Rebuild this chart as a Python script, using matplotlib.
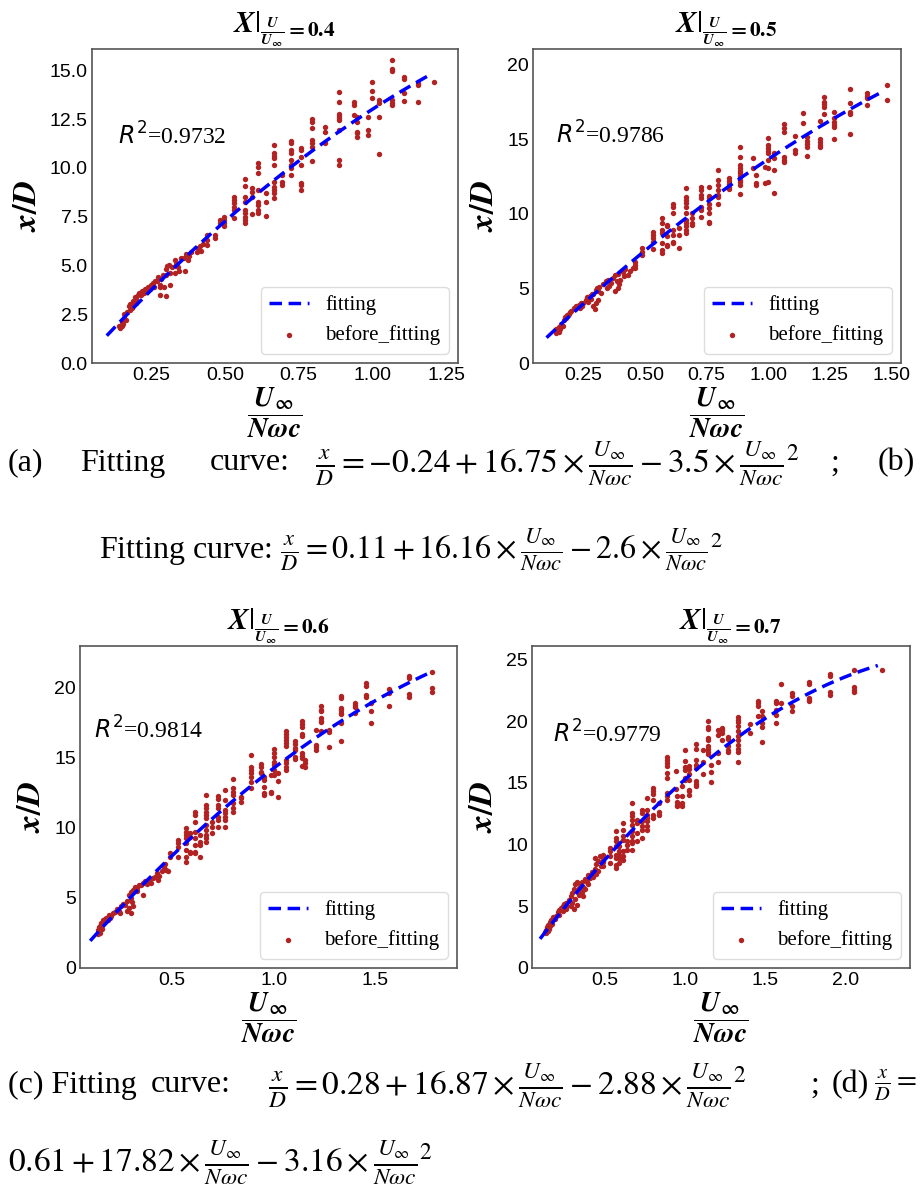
import numpy as np
import matplotlib
matplotlib.use('Agg')
import matplotlib.pyplot as plt

plt.rcParams['font.family'] = ['Liberation Serif', 'DejaVu Serif']
plt.rcParams['mathtext.fontset'] = 'stix'

# U_inf/(N w c) on x, x/D on y.  Columns of repeated runs, then single points
a_cols = [1.065, 1.108, 1.155, 1.209, 0.998, 1.023, 0.984, 0.949, 0.938, 0.887, 0.84, 0.797,
          0.758, 0.725, 0.693, 0.665, 0.639, 0.614, 0.592, 0.57, 0.53, 0.496, 0.484, 0.467, 0.441]
a_vals = [[15.53, 15.1, 14.98, 13.48, 13.34, 13.23], [14.67, 14.54, 13.82, 13.43], [14.37, 14.25, 13.4],
          [14.39], [14.42, 13.96, 13.6], [13.48, 13.31, 12.63, 10.7], [12.63, 11.95, 11.69],
          [12.63, 12.37, 11.86, 11.78, 11.6], [13.4, 13.23, 12.71],
          [13.9, 13.36, 12.76, 12.66, 12.54, 12.46, 11.95, 10.41, 10.16], [12.08, 11.86, 11.26],
          [12.49, 12.37, 12.03, 11.43, 11.26, 11.09, 10.36], [11.0, 10.92, 10.58, 10.15, 9.22, 9.13, 8.87],
          [11.4, 11.26, 10.92, 10.75, 10.41, 10.15, 9.98, 9.64], [9.64, 9.3, 9.13],
          [11.18, 10.75, 10.61, 10.5, 10.15, 9.3, 9.04, 8.87, 8.7, 8.45], [8.7, 8.27, 7.56],
          [10.24, 10.07, 9.76, 8.87, 8.27, 8.1, 7.85, 7.68], [8.96, 8.79, 8.53, 7.63],
          [9.42, 9.08, 8.53, 8.27, 7.85, 7.68, 7.5, 7.34, 7.17], [8.53, 8.36, 8.19, 8.02, 7.85, 7.42],
          [7.5, 7.34, 7.17, 7.05], [7.34, 7.17], [6.57, 6.4], [6.57, 6.31, 6.06]]
a_lx = [0.41, 0.415, 0.42, 0.425, 0.405, 0.36, 0.37, 0.375, 0.38, 0.385, 0.366,
        0.33, 0.335, 0.34, 0.345, 0.35, 0.33, 0.30, 0.305, 0.31, 0.315, 0.32, 0.30,
        0.315, 0.3, 0.282, 0.295, 0.27, 0.275, 0.28, 0.285, 0.29, 0.28,
        0.24, 0.245, 0.25, 0.255, 0.26, 0.265, 0.21, 0.215, 0.22, 0.225, 0.23, 0.235,
        0.19, 0.195, 0.2, 0.2, 0.205, 0.19, 0.175, 0.18, 0.18, 0.185, 0.17,
        0.145, 0.15, 0.15, 0.155, 0.16, 0.165, 0.14, 0.16]
a_ly = [5.9, 6.0, 5.75, 6.1, 5.7, 5.4, 5.6, 5.3, 5.5, 5.7, 4.7,
        5.3, 5.1, 4.9, 4.7, 5.4, 4.6, 4.8, 4.95, 5.0, 4.6, 4.9, 4.5,
        4.0, 3.45, 3.5, 3.9, 4.2, 4.4, 4.0, 4.3, 4.5, 3.9,
        3.9, 3.8, 4.0, 4.1, 3.9, 4.2, 3.6, 3.5, 3.7, 3.6, 3.8, 3.7,
        3.2, 3.4, 3.3, 3.1, 3.5, 3.0, 2.9, 2.7, 3.0, 2.8, 2.6,
        1.8, 1.9, 2.1, 2.0, 2.3, 2.2, 1.9, 2.5]

b_cols = [1.483, 1.403, 1.333, 1.267, 1.228, 1.212, 1.158, 1.143, 1.109, 1.065, 1.025, 0.998,
          0.988, 0.95, 0.94, 0.886, 0.841, 0.798, 0.76, 0.726, 0.692, 0.665, 0.637, 0.613,
          0.59, 0.57, 0.531, 0.488, 0.461]
b_vals = [[18.65, 17.65], [18.1, 17.94, 17.76, 17.31], [18.38, 17.47, 16.86, 16.71, 15.37],
          [16.86, 16.42, 16.19, 15.97, 15.82, 15.01], [17.87, 17.53, 17.38, 17.2, 16.71],
          [16.26, 15.01, 14.85, 14.63, 14.52], [15.15, 14.92, 14.7, 14.52, 13.91], [16.75, 16.13],
          [15.23, 14.3, 14.07], [16.04, 15.75, 15.52, 13.81, 13.63, 13.51], [14.07, 13.74, 12.96, 11.39],
          [15.08, 14.63, 14.41, 14.25, 14.07, 13.63, 13.07, 12.17], [13.18, 12.06],
          [12.62, 12.06, 11.95], [13.74, 13.07],
          [14.52, 13.81, 13.29, 13.07, 12.91, 12.73, 12.55, 12.29, 12.17, 11.95, 11.35],
          [12.4, 12.24, 12.02, 11.84, 11.66], [12.96, 12.29, 11.95, 11.62, 11.28, 11.17, 10.68],
          [11.84, 11.21, 11.06, 10.68, 10.39, 10.05, 9.49, 9.38], [11.8, 11.62, 11.24, 11.06, 10.5, 10.27, 9.83],
          [10.05, 9.72, 9.38, 9.27], [11.73, 11.17, 10.95, 10.72, 10.5, 10.05, 9.6, 9.38, 9.16, 8.93, 8.71],
          [9.05, 8.6, 7.71], [10.68, 10.5, 10.05, 8.93, 8.6, 8.15, 8.04], [9.27, 9.16, 8.49, 7.93, 7.82],
          [9.72, 9.38, 8.93, 8.71, 8.04, 7.59, 7.37], [8.82, 8.6, 8.38, 8.15, 7.64],
          [7.71, 7.48, 7.26], [6.81, 6.59, 6.37]]
b_lx = [0.41, 0.42, 0.43, 0.44, 0.45, 0.415, 0.37, 0.38, 0.385, 0.39, 0.395, 0.4, 0.39, 0.38,
        0.33, 0.34, 0.35, 0.355, 0.36, 0.345, 0.29, 0.3, 0.305, 0.31, 0.315, 0.32,
        0.29, 0.3, 0.31, 0.295, 0.25, 0.26, 0.265, 0.27, 0.275, 0.28, 0.285,
        0.2, 0.21, 0.215, 0.22, 0.23, 0.235, 0.24, 0.245, 0.17, 0.175, 0.18, 0.185, 0.19, 0.195,
        0.14, 0.145, 0.15, 0.15, 0.155, 0.16, 0.165, 0.14]
b_ly = [6.1, 6.3, 5.9, 6.2, 6.4, 5.85, 5.7, 5.9, 5.5, 6.0, 5.3, 5.6, 5.0, 4.8,
        5.3, 5.5, 5.6, 5.2, 5.4, 5.0, 4.6, 4.9, 5.0, 4.8, 5.1, 4.7,
        3.8, 4.0, 4.2, 3.65, 4.0, 4.2, 4.4, 4.1, 4.5, 4.3, 4.6,
        3.5, 3.7, 3.6, 3.8, 3.9, 3.7, 4.0, 3.85, 2.9, 3.1, 3.0, 3.2, 3.3, 3.45,
        2.0, 2.2, 2.1, 2.4, 2.3, 2.6, 2.5, 2.3]

c_cols = [1.778, 1.663, 1.565, 1.479, 1.454, 1.4, 1.332, 1.27, 1.231, 1.21, 1.156, 1.141, 1.107,
          1.063, 1.022, 1.001, 0.985, 0.952, 0.94, 0.887, 0.839, 0.799, 0.761, 0.728, 0.696,
          0.666, 0.639, 0.614, 0.59, 0.57, 0.532, 0.492]
c_vals = [[21.12, 20.0, 19.71], [20.88, 20.72, 19.57, 19.33], [19.93, 19.64, 18.73], [18.93, 18.33, 17.5],
          [20.36, 20.17, 19.52, 19.36], [18.93, 18.8, 18.61, 18.21],
          [19.4, 19.28, 18.57, 18.45, 18.25, 18.14, 17.5, 16.25], [17.01, 16.89, 15.78],
          [18.68, 18.45, 18.33, 17.85, 17.66, 17.56, 16.96], [17.01, 15.94, 15.78, 15.54],
          [14.87, 14.63, 14.39], [17.61, 17.44, 17.25, 16.73, 16.59, 15.35, 15.15, 14.99, 14.44],
          [16.18, 16.01, 15.7, 15.54, 15.1, 14.94],
          [16.96, 16.73, 16.49, 16.3, 16.06, 15.87, 14.87, 14.63, 14.34, 14.15], [13.92, 13.39, 12.24],
          [15.63, 15.39, 15.1, 14.75, 14.51, 14.15, 13.79], [13.79, 12.6, 12.48],
          [13.67, 13.44, 12.96, 12.53, 12.36], [14.58, 14.39, 14.03, 13.92],
          [15.22, 14.34, 14.15, 13.92, 13.67, 13.31, 12.84], [12.24, 12.13, 11.88],
          [13.49, 12.84, 12.6, 12.36, 11.77, 11.41, 11.17], [12.72, 12.0, 11.29, 11.05, 10.81, 10.57, 10.09],
          [12.29, 12.05, 11.65, 11.41, 10.81, 10.57, 10.09], [10.45, 10.09, 9.62],
          [12.36, 11.65, 11.41, 11.17, 10.93, 10.69, 10.21, 9.86, 9.5, 9.26, 9.02], [9.5, 9.02, 8.78, 7.95],
          [11.17, 10.93, 10.45, 9.74, 9.26, 8.78, 8.3, 8.19], [9.62, 9.38, 8.3, 8.19],
          [9.98, 9.74, 9.5, 9.26, 8.9, 8.43, 7.95, 7.59], [9.14, 8.9, 8.66, 7.95], [8.19, 7.95]]
c_lx = [0.46, 0.47, 0.48, 0.465, 0.42, 0.43, 0.44, 0.45, 0.435,
        0.35, 0.36, 0.37, 0.38, 0.39, 0.4, 0.41, 0.36, 0.29, 0.3, 0.31, 0.32, 0.33, 0.34, 0.3, 0.33,
        0.28, 0.29, 0.3, 0.31, 0.305, 0.2, 0.21, 0.22, 0.23, 0.24, 0.25, 0.26, 0.27, 0.28, 0.245,
        0.14, 0.145, 0.15, 0.155, 0.16, 0.165, 0.17, 0.175, 0.18, 0.19, 0.15, 0.14, 0.16, 0.185, 0.195]
c_ly = [7.2, 7.0, 6.9, 7.4, 6.5, 6.8, 6.6, 6.9, 6.3,
        5.9, 6.1, 6.2, 6.0, 6.3, 6.1, 6.4, 5.2, 5.2, 5.4, 5.6, 5.8, 5.5, 5.9, 5.0, 5.7,
        4.1, 4.3, 3.9, 4.4, 4.7, 3.7, 3.9, 4.0, 4.2, 4.1, 4.4, 4.6, 4.5, 4.8, 3.9,
        2.7, 2.9, 3.0, 3.2, 3.1, 3.4, 3.3, 3.5, 3.6, 3.8, 2.5, 2.4, 2.8, 3.4, 3.6]

d_cols = [2.224, 2.052, 1.903, 1.774, 1.665, 1.598, 1.567, 1.482, 1.453, 1.406, 1.333, 1.271, 1.23,
          1.209, 1.161, 1.143, 1.112, 1.07, 1.028, 1.002, 0.981, 0.95, 0.946, 0.892, 0.842, 0.801,
          0.763, 0.732, 0.701, 0.67, 0.639, 0.618, 0.593, 0.573, 0.535, 0.494]
d_vals = [[24.19], [24.19, 22.79, 22.57, 22.38], [23.84, 23.65, 22.35, 22.11], [23.19, 22.98, 21.9, 21.76, 21.62],
          [22.3, 22.08, 21.27, 20.87], [22.98, 21.49], [21.62, 21.49, 20.95, 20.54, 19.87],
          [20.81, 20.41, 19.87, 19.55, 18.3], [21.62, 21.44, 21.22, 20.41], [19.81, 19.06],
          [20.36, 20.14, 19.92, 19.6, 19.19, 18.78, 18.46, 18.11, 17.76, 17.49, 16.68],
          [18.73, 18.57, 17.97, 17.7, 17.49], [19.46, 19.27, 19.06, 18.52], [19.33, 18.92, 17.44, 16.71],
          [16.49, 15.86, 15.05], [20.0, 19.55, 19.38, 18.65, 18.46, 17.97, 17.76, 17.49, 17.38],
          [17.7, 16.68, 15.76], [18.17, 17.76, 16.89, 16.49, 16.22, 15.13, 14.95, 14.78],
          [16.41, 16.14, 15.76, 15.27, 14.46, 14.32, 14.05], [17.7, 16.76, 16.3, 16.08, 15.41, 15.22],
          [14.73, 13.92, 13.38, 13.16], [13.92, 13.43, 13.24, 13.11], [15.95, 14.52],
          [17.11, 16.89, 16.63, 16.35, 15.81, 15.41, 14.19, 13.92, 13.65], [13.38, 12.62, 12.43],
          [14.6, 14.32, 14.13, 13.65, 12.43, 12.17], [13.79, 12.84, 12.43, 12.17, 11.89, 11.48, 11.22],
          [12.84, 12.57, 11.89, 11.48, 11.22, 10.54], [12.03, 11.76, 10.95, 10.27],
          [13.38, 12.57, 12.3, 12.03, 11.62, 11.08, 10.67, 10.27, 10.14, 9.59], [10.27, 10.0, 9.59],
          [11.76, 11.22, 10.67, 10.41, 9.46, 9.05, 8.78], [9.86, 9.46, 9.19, 8.92, 8.52],
          [11.08, 10.54, 10.27, 9.86, 9.19, 8.92, 8.38, 8.11], [9.73, 9.46, 9.05, 8.52], [9.19, 8.92, 8.65, 8.25]]
d_lx = [0.44, 0.45, 0.46, 0.47, 0.48, 0.49, 0.46, 0.45, 0.43, 0.44,
        0.34, 0.35, 0.36, 0.37, 0.38, 0.39, 0.4, 0.41, 0.42, 0.36, 0.38, 0.40, 0.37, 0.35,
        0.28, 0.29, 0.3, 0.31, 0.32, 0.33, 0.3, 0.32, 0.34, 0.33, 0.29, 0.31,
        0.2, 0.21, 0.22, 0.23, 0.24, 0.25, 0.26, 0.22, 0.24, 0.26, 0.27,
        0.13, 0.14, 0.145, 0.15, 0.155, 0.16, 0.17, 0.18, 0.19, 0.14, 0.15, 0.165, 0.175]
d_ly = [8.9, 8.4, 8.7, 9.1, 8.3, 8.6, 7.9, 7.6, 7.4, 8.0,
        6.5, 6.8, 7.0, 6.6, 7.2, 7.0, 7.5, 7.3, 7.8, 6.2, 6.4, 6.8, 5.8, 6.0,
        5.5, 5.8, 6.1, 6.4, 6.8, 7.0, 5.3, 5.6, 5.9, 5.1, 5.0, 4.8,
        4.2, 4.5, 4.7, 4.9, 5.0, 5.2, 5.3, 4.3, 4.6, 4.8, 5.0,
        2.9, 3.1, 3.3, 3.5, 3.2, 3.7, 3.9, 4.1, 4.0, 2.8, 3.0, 3.4, 3.6]

# fitted quadratic coefficients (c0, c1, c2) and the range the fit is drawn over
fit_coef = [(-0.24, 16.75, -3.5), (0.11, 16.16, -2.6), (0.28, 16.87, -2.88), (0.61, 17.82, -3.16)]
fit_span = [(0.1, 1.2), (0.1, 1.45), (0.1, 1.76), (0.1, 2.2)]
r2 = ['0.9732', '0.9786', '0.9814', '0.9779']
ratio = ['0.4', '0.5', '0.6', '0.7']

xlims = [(0.05, 1.29), (0.045, 1.54), (0.05, 1.9), (0.05, 2.4)]
ylims = [(0, 16.1), (0, 21.07), (0, 23.0), (0, 26.1)]
xticks = [[0.25, 0.5, 0.75, 1.0, 1.25], [0.25, 0.5, 0.75, 1.0, 1.25, 1.5], [0.5, 1.0, 1.5], [0.5, 1.0, 1.5, 2.0]]
yticks = [[0, 2.5, 5, 7.5, 10, 12.5, 15], [0, 5, 10, 15, 20], [0, 5, 10, 15, 20], [0, 5, 10, 15, 20, 25]]
xfmt = ['%.2f', '%.2f', '%.1f', '%.1f']
yfmt = ['%.1f', '%d', '%d', '%d']

W, H = 921, 1192
boxes = [(92, 49, 458, 363), (533, 49, 901, 363), (80, 646, 457, 968), (532, 646, 910, 968)]
r2pos = [(0.071, 0.697), (0.0625, 0.70), (0.037, 0.711), (0.056, 0.699)]

pts = [(a_cols, a_vals, a_lx, a_ly), (b_cols, b_vals, b_lx, b_ly),
       (c_cols, c_vals, c_lx, c_ly), (d_cols, d_vals, d_lx, d_ly)]

fig = plt.figure(figsize=(W / 100, H / 100), dpi=100)

for i in range(4):
    l, t, r, b = boxes[i]
    ax = fig.add_axes([l / W, 1 - b / H, (r - l) / W, (b - t) / H])
    cols, vals, lx, ly = pts[i]
    px = [x for x, ys in zip(cols, vals) for _ in ys] + lx
    py = [y for ys in vals for y in ys] + ly

    c0, c1, c2 = fit_coef[i]
    xs = np.linspace(fit_span[i][0], fit_span[i][1], 200)
    ax.plot(xs, c0 + c1 * xs + c2 * xs ** 2, '--', color='blue', lw=2.5, dashes=(3.6, 1.9),
            label='fitting', zorder=3)
    ax.scatter(px, py, s=15, color='#b22222', lw=0, label='before_fitting', zorder=2)

    ax.set_xlim(*xlims[i])
    ax.set_ylim(*ylims[i])
    ax.set_xticks(xticks[i])
    ax.set_xticklabels([xfmt[i] % v for v in xticks[i]], fontfamily='Liberation Sans', fontsize=14)
    ax.set_yticks(yticks[i])
    ax.set_yticklabels([yfmt[i] % v for v in yticks[i]], fontfamily='Liberation Sans', fontsize=14)
    ax.tick_params(length=0, pad=3)
    for s in ax.spines.values():
        s.set_color('#555555')
        s.set_linewidth(1.2)

    ax.set_ylabel(r'$\boldsymbol{x/D}$', fontsize=24, labelpad=5)
    ax.set_xlabel(r'$\dfrac{\boldsymbol{U}_{\boldsymbol{\infty}}}{\boldsymbol{N\omega c}}$', fontsize=20, labelpad=1)
    ax.set_title(r'$\boldsymbol{X}|_{\frac{\boldsymbol{U}}{\boldsymbol{U}_{\boldsymbol{\infty}}}\mathbf{=' + ratio[i] + '}}$',
                 fontsize=22, pad=3, x=0.525)
    ax.text(r2pos[i][0], r2pos[i][1], r'$R^2$=' + r2[i], transform=ax.transAxes, fontsize=17,
            va='baseline', math_fontfamily='dejavusans')
    ax.legend(loc='lower right', fontsize=15, scatterpoints=1, framealpha=1, edgecolor='#dddddd',
              fancybox=True, handlelength=1.9, borderaxespad=0.45)

frac = r'\frac{U_{\infty}}{N\omega c}'


def put(x, y, s, size=23):
    fig.text(x / W, 1 - y / H, s, fontsize=size, va='center', ha='left')


put(8, 463, '(a)')
put(80, 463, 'Fitting')
put(210, 463, 'curve:')
put(315, 463, r'$\frac{x}{D}=-0.24+16.75\times' + frac + r'-3.5\times{' + frac + r'}^{2}$', 24)
put(830, 463, ';')
put(878, 463, '(b)')

put(99, 550, r'Fitting curve: $\frac{x}{D}=0.11+16.16\times' + frac + r'-2.6\times{' + frac + r'}^{2}$')

put(8, 1085, '(c) Fitting')
put(151, 1085, 'curve:')
put(268, 1085, r'$\frac{x}{D}=0.28+16.87\times' + frac + r'-2.88\times{' + frac + r'}^{2}$', 24)
put(810, 1085, ';')
put(832, 1085, '(d)')
put(874, 1085, r'$\frac{x}{D}=$', 21)

put(8, 1162, r'$0.61+17.82\times' + frac + r'-3.16\times{' + frac + r'}^{2}$', 24)

fig.savefig('out.png', dpi=100)
